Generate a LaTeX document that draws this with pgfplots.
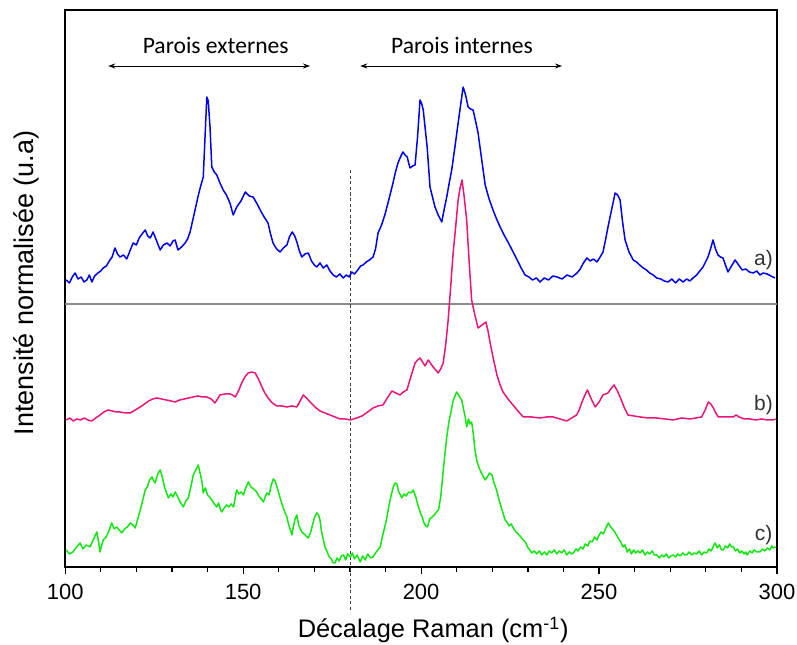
\documentclass[border=0pt]{standalone}
\usepackage{pgfplots}
\pgfplotsset{compat=1.18}
\usepackage{fontspec}
\setmainfont{Liberation Sans}
\newfontfamily\calibri{Carlito}
\usetikzlibrary{arrows.meta}

\definecolor{spblue}{RGB}{0,0,240}
\definecolor{sppink}{RGB}{235,20,120}
\definecolor{spgreen}{RGB}{20,230,20}
\definecolor{labgray}{RGB}{50,50,50}

\pgfplotstableread{
x y
100.3 287
101.2 284
102.0 290
102.8 294
103.6 288
104.5 290
105.3 285
106.1 287
106.8 292
107.5 285
108.3 291
109.2 294
110.0 296
110.7 299
111.6 301
112.4 306
113.2 310
114.0 319
114.7 313
115.4 310
116.4 312
117.3 308
118.2 316
119.1 324
120.0 322
120.8 329
121.6 333
122.5 337
123.2 331
123.9 329
124.7 335
125.6 327
126.7 317
127.6 322
128.6 324
129.5 321
130.3 326
130.9 327
131.7 317
132.7 320
133.7 324
134.4 328
135.1 335
135.8 346
136.5 357
137.3 370
138.0 380
138.8 390
139.3 430
139.8 470
140.2 466
140.7 440
141.2 400
141.9 395
142.6 392
143.5 384
144.4 377
145.3 372
146.3 364
147.2 352
148.2 360
149.4 366
150.6 375
151.7 371
152.8 370
153.8 364
154.8 357
155.9 350
157.0 344
157.7 333
158.4 324
159.4 318
160.4 315
161.3 319
162.3 322
163.0 330
163.8 335
164.5 331
165.1 325
165.8 316
166.5 310
167.4 313
168.3 314
169.2 306
170.0 302
170.7 300
171.6 304
172.5 299
173.5 302
174.4 296
175.3 292
176.2 290
177.2 293
178.1 289
179.0 292
179.8 290
180.5 295
181.3 293
182.2 297
183.0 301
183.7 302
184.6 305
185.5 307
186.5 310
187.2 318
187.9 334
188.9 342
189.8 352
190.7 364
191.4 374
192.1 384
192.8 395
193.5 404
194.2 410
194.9 415
195.5 412
196.1 410
196.5 404
196.9 399
197.6 401
198.3 402
199.0 430
199.7 467
200.2 463
200.6 457
201.1 440
201.7 420
202.1 400
202.5 380
203.2 370
203.9 360
204.8 352
205.8 345
206.5 358
207.2 370
207.9 384
208.6 397
209.5 420
210.4 444
211.1 462
211.8 480
212.5 472
213.2 460
213.9 458
214.6 457
215.3 446
216.0 434
217.0 408
218.0 382
219.1 368
220.2 357
221.2 348
222.2 340
223.3 332
224.4 325
225.7 316
227.0 307
228.1 299
229.2 292
230.3 290
231.3 287
232.4 289
233.4 285
234.6 289
235.8 287
237.0 291
238.2 290
239.6 288
241.0 292
242.4 290
243.8 294
244.7 298
245.6 304
246.6 309
247.5 306
248.4 308
249.4 305
250.3 310
251.1 315
251.8 327
252.5 340
253.5 357
254.5 374
255.2 372
255.9 367
256.6 345
257.3 327
258.4 315
259.6 307
260.5 305
261.4 302
262.4 299
263.3 297
264.2 294
265.2 292
266.2 289
267.3 288
268.3 286
269.4 285
270.4 288
271.5 284
272.5 288
273.6 285
274.6 288
275.5 286
276.4 289
277.4 292
278.3 296
279.2 300
279.9 305
280.6 310
281.3 318
282.0 327
282.7 318
283.4 312
284.1 310
284.8 309
285.5 302
286.2 295
287.2 301
288.2 307
289.2 302
290.2 297
291.2 298
292.2 295
293.3 294
294.3 296
295.2 292
296.1 294
297.2 293
298.3 291
299.4 289
}\specA

\pgfplotstableread{
x y
100.3 147
101.3 149
102.3 146
103.3 148
104.3 147
105.4 149
106.4 147
107.5 146
108.6 149
109.8 152
110.9 155
112.1 157
113.2 156
114.3 155
115.4 155
116.9 154
118.3 154
119.7 157
121.1 160
122.3 163
123.5 166
124.6 168
125.8 169
127.1 168
128.4 167
129.7 166
130.9 165
132.2 167
133.5 168
134.7 169
136.0 170
137.3 171
138.5 170
139.8 170
141.0 168
142.1 164
142.8 168
143.5 172
144.9 173
146.3 173
147.0 172
147.8 170
148.7 176
149.6 184
150.5 190
151.4 194
152.4 195
153.4 194
154.3 188
155.3 180
156.1 174
157.0 169
158.2 164
159.5 161
160.9 161
162.3 160
163.7 161
165.1 160
166.0 166
166.9 172
167.8 169
168.8 165
170.2 160
171.6 156
173.0 154
174.4 152
175.8 150
177.2 148
178.6 148
180.1 147
181.0 148
181.9 149
183.4 151
185.0 155
186.5 159
187.9 161
189.3 162
190.5 169
191.8 176
192.9 174
194.1 172
195.0 175
196.0 177
197.1 190
198.3 204
199.0 207
199.7 209
200.4 205
201.1 201
202.0 207
203.4 200
204.8 194
205.5 198
206.2 204
206.9 222
207.6 247
208.3 280
209.0 314
209.7 340
210.4 367
211.0 380
211.5 387
212.1 370
212.8 347
213.5 305
214.2 267
215.1 252
216.0 239
217.1 242
218.2 245
218.8 236
219.4 224
220.3 208
221.3 192
222.1 183
223.0 175
224.4 168
225.8 162
227.2 156
228.7 150
231.0 150
233.4 149
235.3 150
237.1 150
239.0 148
240.9 146
242.3 149
243.7 152
244.4 157
245.1 164
245.9 171
246.7 177
247.8 168
248.9 160
250.0 165
251.1 172
252.5 174
253.3 178
254.2 182
255.0 177
255.9 170
257.0 160
258.1 152
259.8 151
261.5 150
263.9 149
266.2 149
268.5 148
270.8 147
273.2 149
275.6 148
277.2 149
278.8 150
279.8 157
280.7 165
281.4 163
282.1 159
282.8 154
283.5 150
285.6 150
287.7 150
288.5 152
289.3 150
290.8 148
292.4 148
294.0 147
295.6 148
297.3 147
298.9 147
299.6 148
}\specB

\pgfplotstableread{
x y
100.3 17
101.2 13
102.2 15
103.2 20
104.2 24
105.0 18
106.0 22
107.0 20
108.0 28
108.9 35
109.4 25
109.8 15
110.3 22
110.7 27
111.5 30
112.3 36
113.1 44
113.8 38
114.5 40
115.2 37
115.9 34
116.7 38
117.5 40
118.3 44
119.0 42
119.7 39
120.4 48
121.1 57
121.8 67
122.5 77
123.1 80
123.7 87
124.4 90
124.9 86
125.3 84
126.0 93
126.7 97
127.3 90
127.9 80
128.5 74
129.0 69
129.7 73
130.3 70
130.9 75
131.5 71
132.3 65
133.2 60
133.9 66
134.6 69
135.3 80
136.0 92
136.7 97
137.4 102
137.9 94
138.4 86
138.8 74
139.4 79
140.0 72
140.6 70
141.2 67
141.9 63
142.6 60
143.1 64
143.6 58
144.0 55
144.7 59
145.4 62
146.0 60
146.6 63
147.3 60
147.8 70
148.2 77
148.8 73
149.5 75
150.1 72
150.6 78
151.1 82
151.5 85
152.2 80
153.0 78
153.8 75
154.4 71
155.1 68
155.7 65
156.2 70
156.7 74
157.3 72
157.9 82
158.5 88
159.0 86
159.5 80
160.0 74
160.4 69
161.0 62
161.7 55
162.3 50
162.8 42
163.2 38
163.7 32
164.1 40
164.6 48
165.1 52
165.6 42
166.1 38
166.5 35
167.1 33
167.7 31
168.3 29
168.9 34
169.5 42
170.1 50
170.7 54
171.2 52
171.6 47
172.0 36
172.5 28
173.0 20
173.6 15
174.2 10
174.8 8
175.3 4
175.8 4
176.4 9
177.0 6
177.6 11
178.2 12
178.8 7
179.4 13
180.1 10
180.7 14
181.3 8
182.0 12
182.9 5
183.6 11
184.3 7
185.0 13
185.8 9
186.5 10
187.2 14
187.8 17
188.5 20
189.1 30
189.8 40
190.4 50
191.0 62
191.6 72
192.2 80
192.7 84
193.2 83
193.7 75
194.2 72
194.6 69
195.2 73
195.8 71
196.5 75
197.2 74
197.8 77
198.5 70
199.1 62
199.7 55
200.3 50
200.8 44
201.3 41
201.8 40
202.4 48
203.1 50
203.7 52
204.3 55
204.9 57
205.5 70
206.0 88
206.6 110
207.2 130
207.8 145
208.4 155
208.9 165
209.5 171
210.0 175
210.5 172
211.0 169
211.4 167
211.9 158
212.4 150
212.8 140
213.3 148
213.7 143
214.2 145
214.7 132
215.1 118
215.6 107
216.2 100
216.8 95
217.4 91
218.0 87
218.6 90
219.2 94
219.9 92
220.5 84
221.1 78
221.7 70
222.3 62
223.0 54
223.6 47
224.1 45
224.7 41
225.3 43
225.9 39
226.6 35
227.3 33
228.0 30
228.7 27
229.3 25
229.9 20
230.5 17
231.1 14
231.8 16
232.5 13
233.2 16
233.9 12
234.6 15
235.3 12
236.0 16
236.7 14
237.4 17
238.1 13
238.8 16
239.5 14
240.2 17
240.9 12
241.6 15
242.2 13
242.8 14
243.5 18
244.1 16
244.8 20
245.5 18
246.1 23
246.8 21
247.4 26
248.1 25
248.7 30
249.4 27
250.0 32
250.6 35
251.2 33
251.9 39
252.6 44
253.2 40
253.8 38
254.4 35
254.9 32
255.5 28
256.1 25
256.7 20
257.3 22
257.9 15
258.5 18
259.1 13
259.7 17
260.3 14
260.9 16
261.5 14
262.2 17
262.9 12
263.6 15
264.2 13
264.9 16
265.5 12
266.2 12
266.9 9
267.6 12
268.2 10
268.9 13
269.5 9
270.2 11
270.8 12
271.5 10
272.1 13
272.8 11
273.5 14
274.1 12
274.6 12
275.3 15
276.0 12
276.7 14
277.4 13
278.1 16
278.8 12
279.5 15
280.2 14
280.9 18
281.5 16
282.0 20
282.6 24
283.2 19
283.8 22
284.4 17
284.9 17
285.5 21
286.1 19
286.7 23
287.2 20
287.7 20
288.3 16
288.9 18
289.5 14
290.1 16
290.7 13
291.2 15
291.6 12
292.3 16
293.0 14
293.6 17
294.3 15
295.2 15
295.9 18
296.6 16
297.3 19
298.0 17
298.5 21
298.9 19
299.6 20
}\specC

\begin{document}
\begin{tikzpicture}
\begin{axis}[
  width=356pt, height=278.5pt, scale only axis,
  xmin=100, xmax=300, ymin=0, ymax=557,
  clip=false,
  xtick={100,150,200,250,300},
  minor x tick num=4,
  xtick pos=bottom,
  ytick=\empty,
  tick align=outside,
  major tick length=3.5pt,
  minor tick length=2.5pt,
  every tick/.style={black, line width=0.6pt},
  axis line style={line width=0.8pt},
  /pgf/number format/assume math mode=true,
  tick label style={font=\fontsize{11}{12}\selectfont},
  xticklabel style={inner sep=0.5pt, yshift=-4.5pt},
  xlabel={Décalage Raman (cm\textsuperscript{-1})},
  ylabel={Intensité normalisée (u.a)},
  xlabel style={font=\fontsize{12.7}{14}\selectfont, inner sep=0pt, at={(axis description cs:0.517,-0.113)}, anchor=center},
  ylabel style={font=\fontsize{13.5}{15}\selectfont, inner sep=0pt, at={(axis description cs:-0.055,0.51)}, anchor=center},
  every axis plot/.append style={line width=0.75pt, line join=round},
]
% bounding area of the figure
\path (axis cs:81.7,-78) rectangle (axis cs:305.6,567);

% separator line and dashed marker
\draw[gray!90, line width=0.9pt] (axis cs:100,263) -- (axis cs:300,263);
\draw[black!75, line width=0.4pt, dash pattern=on 1.6pt off 1.2pt] (axis cs:180,397) -- (axis cs:180,-43);

\addplot[spblue] table {\specA};
\addplot[sppink] table {\specB};
\addplot[spgreen] table {\specC};

% region arrows
\draw[{Stealth[length=3.5pt,width=2.5pt]}-{Stealth[length=3.5pt,width=2.5pt]}, line width=0.45pt]
  (axis cs:112.1,501) -- (axis cs:168.8,501);
\draw[{Stealth[length=3.5pt,width=2.5pt]}-{Stealth[length=3.5pt,width=2.5pt]}, line width=0.45pt]
  (axis cs:182.9,501) -- (axis cs:239.6,501);
\node[anchor=base, font=\calibri\fontsize{11.8}{13}\selectfont] at (axis cs:142.3,514) {Parois externes};
\node[anchor=base, font=\calibri\fontsize{11.8}{13}\selectfont] at (axis cs:211.5,514) {Parois internes};

% curve labels
\node[text=labgray, font=\fontsize{10.5}{12}\selectfont] at (axis cs:296.2,307) {a)};
\node[text=labgray, font=\fontsize{10.5}{12}\selectfont] at (axis cs:296.2,162) {b)};
\node[text=labgray, font=\fontsize{10.5}{12}\selectfont] at (axis cs:296.2,32) {c)};
\end{axis}
\end{tikzpicture}
\end{document}
